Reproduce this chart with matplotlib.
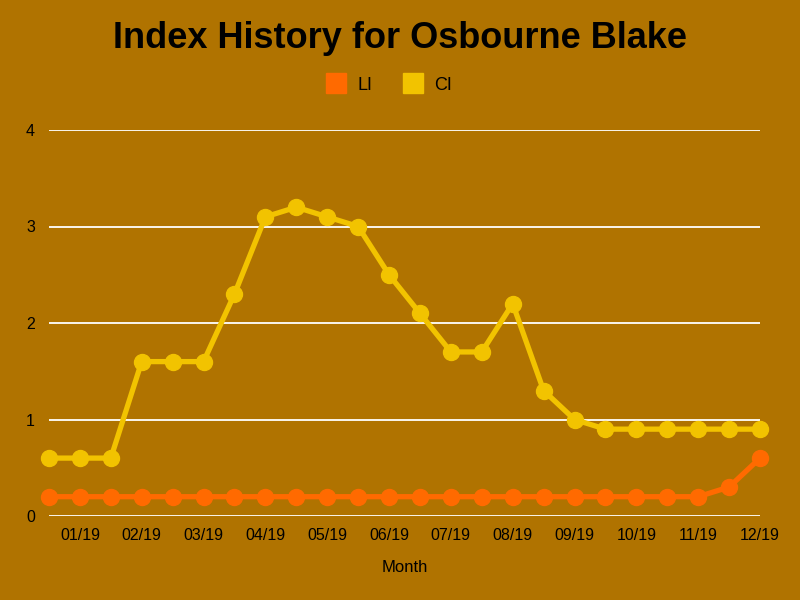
import matplotlib
matplotlib.use('Agg')
import matplotlib.pyplot as plt
from matplotlib.lines import Line2D

bg = '#B07300'
li_color = '#FF6A00'
ci_color = '#F2C300'

tick_labels = ['01/19', '02/19', '03/19', '04/19', '05/19', '06/19',
               '07/19', '08/19', '09/19', '10/19', '11/19', '12/19']
li = [0.2] * 22 + [0.3, 0.6]
ci = [0.6, 0.6, 0.6, 1.6, 1.6, 1.6, 2.3, 3.1, 3.2, 3.1, 3.0, 2.5,
      2.1, 1.7, 1.7, 2.2, 1.3, 1.0, 0.9, 0.9, 0.9, 0.9, 0.9, 0.9]
x = list(range(len(ci)))

plt.rcParams['font.family'] = ['Liberation Sans', 'DejaVu Sans']

fig = plt.figure(figsize=(8, 6), dpi=100, facecolor=bg)
ax = fig.add_axes([49/800, 84/600, 711/800, 386/600], facecolor=bg)

for yv in range(5):
    ax.axhline(yv, color='white', lw=1.3, zorder=1)

ax.plot(x, li, color=li_color, lw=3.8, marker='o', ms=11.5, clip_on=False, zorder=3)
ax.plot(x, ci, color=ci_color, lw=3.8, marker='o', ms=11.5, clip_on=False, zorder=3)

ax.set_xlim(0, 23)
ax.set_ylim(0, 4)
ax.set_xticks(x[1::2])
ax.set_xticklabels(tick_labels)
ax.set_yticks([0, 1, 2, 3, 4])
ax.tick_params(length=0, labelsize=11.5, pad=9)
ax.tick_params(axis='y', pad=10)
for s in ax.spines.values():
    s.set_visible(False)
ax.set_xlabel('Month', fontsize=12, labelpad=12)

fig.text(0.5, 0.935, 'Index History for Osbourne Blake', ha='center', va='center',
         fontsize=26, fontweight='bold',
         family=['Liberation Sans Narrow', 'Liberation Sans', 'DejaVu Sans'])

handles = [Line2D([], [], ls='', marker='s', ms=15, color=li_color),
           Line2D([], [], ls='', marker='s', ms=15, color=ci_color)]
fig.legend(handles, ['LI', 'CI'], loc='center', bbox_to_anchor=(0.486, 0.858),
           ncol=2, frameon=False, fontsize=13, handletextpad=0.6,
           columnspacing=1.6, handlelength=1.2)

fig.savefig('out.png', dpi=100, facecolor=bg)
